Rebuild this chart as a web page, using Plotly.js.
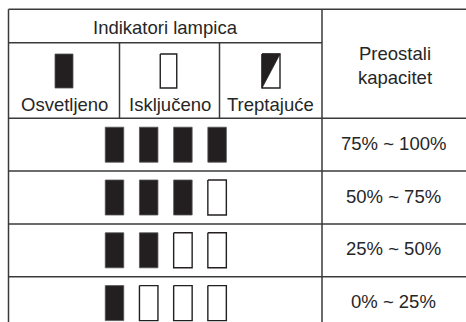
<!DOCTYPE html>
<html>
<head>
<meta charset="utf-8">
<script src="https://cdn.plot.ly/plotly-3.0.1.min.js"></script>
<style>
html,body{margin:0;padding:0;background:#fff;}
#chart{width:466px;height:322px;}
</style>
</head>
<body>
<div id="chart"></div>
<script>
// ---- data ----
const headerTitle = 'Indikatori lampica';
const capacityTitle = 'Preostali<br>kapacitet';
const legendLabels = ['Osvetljeno', 'Isključeno', 'Treptajuće'];
const legendStates = ['on', 'off', 'blink'];
const levels = ['75% ~ 100%', '50% ~ 75%', '25% ~ 50%', '0% ~ 25%'];
const litLamps = [4, 3, 2, 1];
const lampCount = 4;

// ---- geometry (pixel-like axis units) ----
const W = 466, H = 322;
const L = 8.5, T = 9.3, R = 466, SPLIT = 322;
const H1 = 42.7, HB = 118.3, ROWH = 52.8;
const SUB = [L, 119.5, 219.5, SPLIT];
const LAMP_X0 = 114.5, LAMP_DX = 34.2, LAMP_W = 18.5, LAMP_H = 35;
const INK = '#231f20', LINE = '#3a3a3a', TXT = '#262626';
const FONT = 'Liberation Sans, Arial, sans-serif';

const shapes = [];
function ln(x0, y0, x1, y1) {
  shapes.push({type: 'line', xref: 'x', yref: 'y', x0, y0, x1, y1,
    line: {color: LINE, width: 1.5}, layer: 'above'});
}
// table frame
ln(L, T, R, T);
ln(L, T, L, H + 10);
ln(SPLIT, T, SPLIT, H + 10);
ln(L, H1, SPLIT, H1);
ln(SUB[1], H1, SUB[1], HB);
ln(SUB[2], H1, SUB[2], HB);
for (let i = 0; i < levels.length; i++) ln(L, HB + i * ROWH, R, HB + i * ROWH);

// lamp polygons
function rectPts(cx, cy, w, h) {
  return {x: [cx - w/2, cx + w/2, cx + w/2, cx - w/2, cx - w/2, null],
          y: [cy - h/2, cy - h/2, cy + h/2, cy + h/2, cy - h/2, null]};
}
const on = {x: [], y: []}, off = {x: [], y: []}, tri = {x: [], y: []};
function add(tgt, p) { tgt.x.push(...p.x); tgt.y.push(...p.y); }

levels.forEach((lv, i) => {
  const cy = HB + ROWH * (i + 0.5);
  for (let j = 0; j < lampCount; j++) {
    const cx = LAMP_X0 + LAMP_DX * j;
    add(j < litLamps[i] ? on : off, rectPts(cx, cy, LAMP_W, LAMP_H));
  }
});

// legend icons in header
const legCx = [64, 168.5, 271];
const legCy = 71, legH = 34;
legendStates.forEach((s, k) => {
  const w = s === 'off' ? 16.5 : 18;
  const p = rectPts(legCx[k], legCy, w, legH);
  if (s === 'on') add(on, p);
  else {
    add(off, p);
    if (s === 'blink') {
      const x0 = legCx[k] - w/2, x1 = legCx[k] + w/2;
      const y0 = legCy - legH/2, y1 = legCy + legH/2;
      tri.x.push(x0, x1, x0, x0, null);
      tri.y.push(y0, y0, y1, y0, null);
    }
  }
});

const traces = [
  {type: 'scatter', mode: 'lines', x: off.x, y: off.y, fill: 'toself',
   fillcolor: '#ffffff', line: {color: INK, width: 1.4}, hoverinfo: 'skip'},
  {type: 'scatter', mode: 'lines', x: on.x, y: on.y, fill: 'toself',
   fillcolor: INK, line: {color: '#555', width: 0.8}, hoverinfo: 'skip'},
  {type: 'scatter', mode: 'lines', x: tri.x, y: tri.y, fill: 'toself',
   fillcolor: INK, line: {color: INK, width: 0.8}, hoverinfo: 'skip'}
];

const annotations = [];
function txt(text, x, y) {
  annotations.push({text, x, y, xref: 'x', yref: 'y', showarrow: false,
    xanchor: 'center', yanchor: 'middle',
    font: {family: FONT, size: 18.5, color: TXT}});
}
txt(headerTitle, (L + SPLIT) / 2, 27);
txt(capacityTitle, (SPLIT + R) / 2 + 0.5, 65);
legendLabels.forEach((t, k) => txt(t, (SUB[k] + SUB[k + 1]) / 2 + (k === 2 ? -0.5 : 0), 104));
levels.forEach((lv, i) => txt(lv, (SPLIT + R) / 2 - 0.5, HB + ROWH * (i + 0.5) - 1.5));

const layout = {
  width: W, height: H,
  margin: {l: 0, r: 0, t: 0, b: 0},
  paper_bgcolor: '#fff', plot_bgcolor: '#fff',
  showlegend: false,
  xaxis: {range: [0, W], visible: false, fixedrange: true},
  yaxis: {range: [H, 0], visible: false, fixedrange: true},
  shapes, annotations
};
Plotly.newPlot('chart', traces, layout, {staticPlot: true, displayModeBar: false});
</script>
</body>
</html>
